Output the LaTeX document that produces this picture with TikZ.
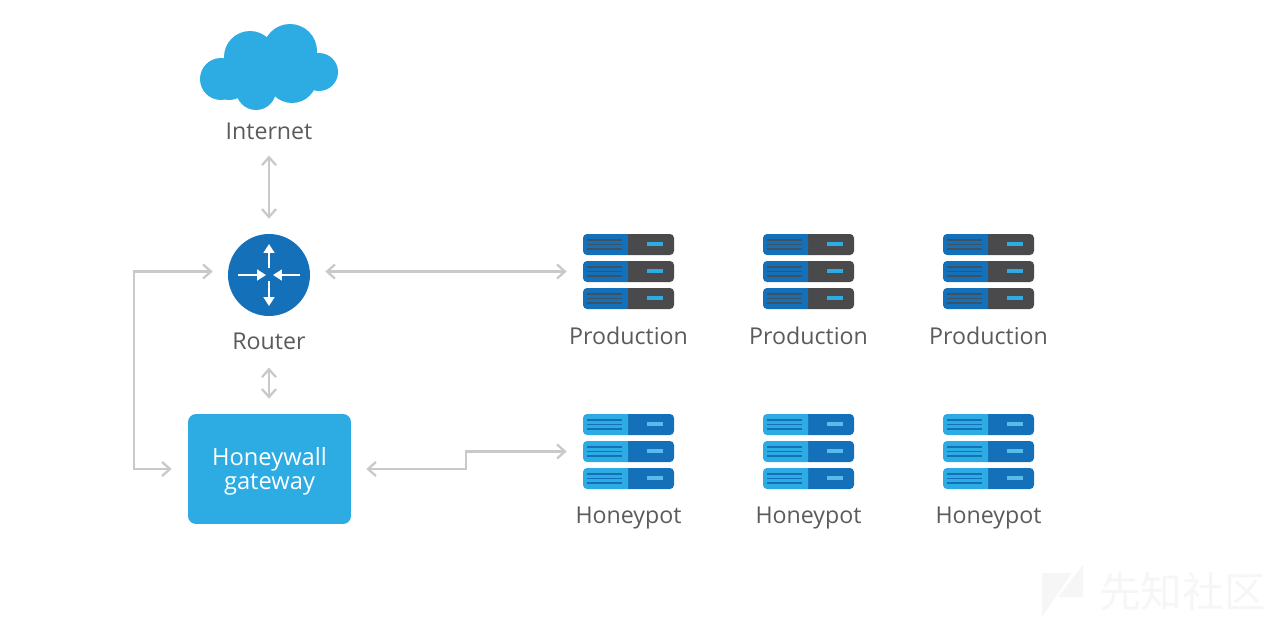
\documentclass[tikz,border=0pt]{standalone}
\usepackage{fontspec}
\setmainfont{Open Sans}
\newfontfamily\cjk{Noto Sans CJK SC}
\usepackage{xcolor}
\usetikzlibrary{calc, arrows.meta}

\definecolor{skyblue}{HTML}{2DABE3}
\definecolor{deepblue}{HTML}{1570BA}
\definecolor{slate}{HTML}{4A4A4C}
\definecolor{inkgray}{HTML}{5A5B5D}
\definecolor{linkgray}{HTML}{C9C9C9}
\definecolor{markgray}{HTML}{F6F6F6}

\tikzset{
  label text/.style = {text = inkgray, font = \fontsize{13.2}{13.6}\selectfont, anchor = base, inner sep = 0pt},
  link/.style = {draw = linkgray, line width = 1.3pt, {Straight Barb[length = 4.5pt, width = 8pt]}-{Straight Barb[length = 4.5pt, width = 8pt]}},
  rack/.style = {minimum width = 1.82cm, minimum height = 1.5cm, inner sep = 0pt},
  router arrow/.style = {draw = white, line width = 1.7pt, -{Triangle[length = 5pt, width = 6pt]}}
}

% one stack of three server units, top left corner at (#2,#3)
\newcommand{\serverrack}[7]{
  \node[rack] (#1) at (#2+45.5,#3+37.5) {};
  \begin{scope}[shift = {(#2,#3)}]
    \foreach \u in {0,27,54} {
      \fill[#5, shift = {(0,\u)}] (45,0) [rounded corners = 0.08cm] -- (91,0) -- (91,21) [sharp corners] -- (45,21) -- cycle;
      \fill[#4, shift = {(0,\u)}] (45,0) [rounded corners = 0.08cm] -- (0,0) -- (0,21) [sharp corners] -- (45,21) -- cycle;
      \foreach \v in {6,10.5,15}
        \draw[#6, line width = 0.9pt, shift = {(0,\u)}] (4,\v) -- (39,\v);
      \draw[#7, line width = 1.9pt, shift = {(0,\u)}] (64,10) -- (80,10);
    }
  \end{scope}
}

\begin{document}
\begin{tikzpicture}[x = 0.02cm, y = -0.02cm]

  \useasboundingbox (0,0) rectangle (1285,622);

  % Cloud
  \fill[skyblue] (290,51) circle (27) (250,57) circle (26) (221,79) circle (21) (229,79) circle (21)
    (319,72) circle (19) (256,90) circle (20) (292,78) circle (25) (270,70) circle (25);

  % Nodes on the left
  \node[label text] (internet) at (269,139) {Internet};
  \node[circle, fill = deepblue, minimum size = 1.64cm, inner sep = 0pt] (router) at (269,275) {};
  \node[label text] (routerlabel) at (269,349) {Router};
  \node[fill = skyblue, rounded corners = 0.16cm, minimum width = 3.26cm, minimum height = 2.2cm,
    inner sep = 0pt, text = white, align = center, font = \fontsize{13.5}{13.6}\selectfont] (gateway) at (269.5,469) {\rule{0pt}{13pt}Honeywall\\gateway};

  % Arrows inside the router
  \begin{scope}[shift = {(269,275)}]
    \draw[router arrow] (0,-7) -- (0,-31);
    \draw[router arrow] (0,6) -- (0,31);
    \draw[router arrow] (-31,0) -- (-3,0);
    \draw[router arrow] (31,0) -- (4,0);
  \end{scope}

  % Server stacks
  \foreach \name/\xpos in {A/583,B/763,C/943} {
    \serverrack{prod\name}{\xpos}{234}{deepblue}{slate}{slate!80!deepblue}{skyblue}
    \serverrack{honey\name}{\xpos}{414}{skyblue}{deepblue}{deepblue}{skyblue!80!white}
    \node[label text] (prodlabel\name) at (\xpos+45.5,344) {Production};
    \node[label text] (honeylabel\name) at (\xpos+45.5,523.5) {Honeypot};
  }

  % Corner points of the stepped lines
  \coordinate (bus) at (134,370);
  \coordinate (jog) at (466,460);

  % Connectors
  \draw[link, shorten < = 0.32cm, shorten > = 0.3cm] (internet) -- (router);
  \draw[link, shorten < = 0.36cm, shorten > = 0.3cm] (routerlabel) -- (routerlabel |- gateway.north);
  \draw[link, shorten < = 0.3cm, shorten > = 0.32cm] (router.east |- prodA.west) -- (prodA.west);
  \draw[link, shorten < = 0.32cm, shorten > = 0.3cm] (gateway.west) -| (bus) |- (router.west |- prodA.west);
  \draw[link, shorten < = 0.3cm, shorten > = 0.32cm] (gateway.east) -| (jog) |- (honeyA.west);

  % Watermark
  \fill[markgray] (1042,573) -- (1072,573) -- (1042,617) -- cycle (1083,565) -- (1083,597) -- (1058,597) -- cycle;
  \node[text = markgray, font = \cjk\fontsize{23.7}{24}\selectfont, inner sep = 0pt] (mark) at (1182.5,592) {先知社区};

\end{tikzpicture}
\end{document}
